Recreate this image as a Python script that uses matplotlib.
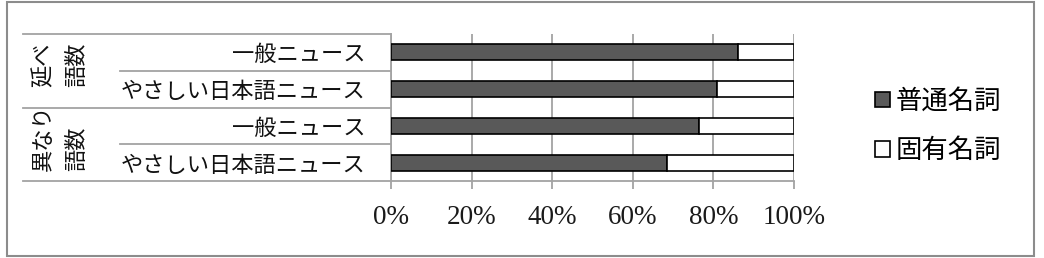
import matplotlib
matplotlib.use("Agg")
import matplotlib.pyplot as plt
import matplotlib.transforms as mtransforms
from matplotlib.patches import Patch, Rectangle

# data (percent)
categories = ["一般ニュース", "やさしい日本語ニュース", "一般ニュース", "やさしい日本語ニュース"]
groups = ["延べ\n語数", "異なり\n語数"]
common_noun = [86.0, 80.8, 76.4, 68.6]
proper_noun = [14.0, 19.2, 23.6, 31.4]
series_labels = ["普通名詞", "固有名詞"]
x_ticks = [0, 20, 40, 60, 80, 100]

W, H = 1044, 258
jp_font = ["Noto Sans CJK JP", "DejaVu Sans"]
grid_color = "#a3a3a3"

fig = plt.figure(figsize=(W / 100, H / 100), dpi=100)
fig.patch.set_facecolor("white")

ax = fig.add_axes([391 / W, 1 - 181 / H, (794 - 391) / W, (181 - 34) / H])
y = list(range(len(categories)))
bar_h = 0.43
ax.barh(y, common_noun, height=bar_h, color="#595959", edgecolor="black", linewidth=1.2, zorder=3)
ax.barh(y, proper_noun, left=common_noun, height=bar_h, color="white", edgecolor="black",
        linewidth=1.2, zorder=3)

ax.set_xlim(0, 100)
ax.set_ylim(len(categories) - 0.5, -0.5)
ax.set_xticks(x_ticks)
ax.set_xticklabels([f"{v}%" for v in x_ticks], family="Liberation Serif", fontsize=19.5, color="#1a1a1a")
ax.tick_params(axis="x", length=6, width=1.3, color=grid_color, pad=11)
ax.set_yticks(y)
ax.set_yticklabels(categories, family=jp_font, fontsize=16, color="#111111")
ax.tick_params(axis="y", length=0, pad=18.5)
ax.xaxis.grid(True, color=grid_color, linewidth=1.3, zorder=0)
ax.set_axisbelow(True)
for side in ["top", "right"]:
    ax.spines[side].set_visible(False)
for side in ["left", "bottom"]:
    ax.spines[side].set_color(grid_color)
    ax.spines[side].set_linewidth(1.3)

# multi-level category separators
trans = mtransforms.blended_transform_factory(fig.transFigure, ax.transData)
for b in [-0.5, 0.5, 1.5, 2.5, 3.5]:
    x0 = 23 / W if b in (-0.5, 1.5, 3.5) else 120 / W
    ax.plot([x0, 391 / W], [b, b], transform=trans, color=grid_color, linewidth=1.3, clip_on=False)

for i, g in enumerate(groups):
    ax.text(60 / W, 2 * i + 0.33, g, transform=trans, rotation=90, ha="center", va="center",
            multialignment="left", family=jp_font, fontsize=16, linespacing=1.6, color="#111111")

# legend
handles = [Patch(facecolor="#595959", edgecolor="black", linewidth=1.2),
           Patch(facecolor="white", edgecolor="black", linewidth=1.2)]
fig.legend(handles, series_labels, loc="center left", bbox_to_anchor=(875 / W, 1 - 126 / H),
           frameon=False, prop={"family": jp_font, "size": 19}, handlelength=0.55, handleheight=0.55,
           handletextpad=0.25, labelspacing=0.85, borderpad=0, borderaxespad=0)

# outer chart border
fig.add_artist(Rectangle((7 / W, 2 / H), (1034 - 7) / W, (256 - 2) / H, transform=fig.transFigure,
                         fill=False, edgecolor="#8c8c8c", linewidth=1.5))

fig.savefig("out.png", dpi=100, facecolor="white")
